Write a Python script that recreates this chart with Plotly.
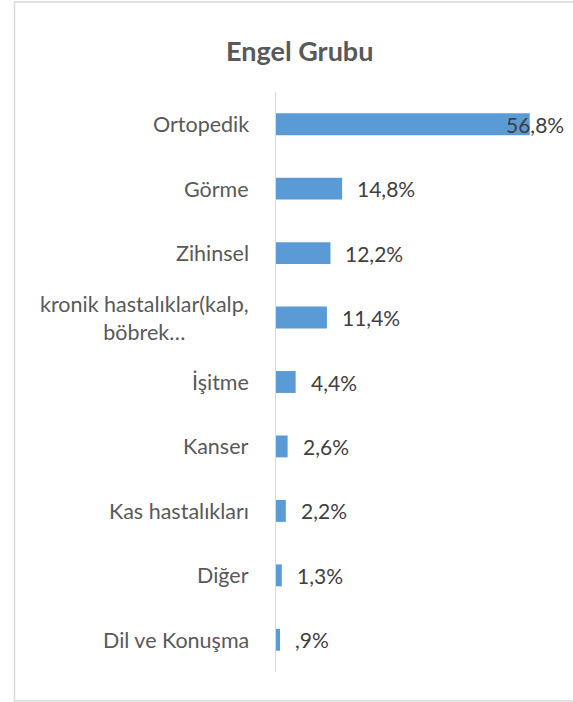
import plotly.graph_objects as go

categories = ["Ortopedik", "Görme", "Zihinsel", "kronik hastalıklar(kalp,<br>böbrek…",
              "İşitme", "Kanser", "Kas hastalıkları", "Diğer", "Dil ve Konuşma"]
values = [56.8, 14.8, 12.2, 11.4, 4.4, 2.6, 2.2, 1.3, 0.9]
title_text = "Engel Grubu"


def fmt(v):
    s = f"{v:.1f}".replace(".", ",")
    if s.startswith("0"):
        s = s[1:]
    return s + "%"


W, H = 573, 702
L, R, T, B = 276, 29, 92, 30
pw, ph = W - L - R, H - T - B

FONT = "Lato"
GRAY = "#595959"
DARK = "#404040"
LBL = 21
CAT = 21.5


def px_x(p):
    return (p - L) / pw


def px_y(p):
    return (H - B - p) / ph


fig = go.Figure()
fig.add_trace(go.Bar(
    x=values, y=categories, orientation="h",
    marker=dict(color="#5B9BD5", line=dict(width=0)),
    hoverinfo="skip",
))

annotations = []
vmax = max(values)
for c, v in zip(categories, values):
    # value labels
    if v == vmax:
        annotations.append(dict(x=v, y=c, xref="x", yref="y", text=fmt(v),
                                showarrow=False, xanchor="right", xshift=36,
                                font=dict(family=FONT, size=LBL, color=DARK)))
    else:
        annotations.append(dict(x=v, y=c, xref="x", yref="y", text=fmt(v),
                                showarrow=False, xanchor="left", xshift=13,
                                font=dict(family=FONT, size=LBL, color=DARK)))
    # category labels (centered for multi-line, like Excel)
    annotations.append(dict(x=px_x(251), y=c, xref="paper", yref="y", text=c,
                            showarrow=False, xanchor="right", align="center",
                            font=dict(family=FONT, size=CAT, color=GRAY)))

annotations.append(dict(x=px_x(299), y=px_y(51), xref="paper", yref="paper",
                        text="<b>" + title_text + "</b>", showarrow=False,
                        xanchor="center", yanchor="middle",
                        font=dict(family=FONT, size=27, color=GRAY)))

fig.update_layout(
    width=W, height=H,
    margin=dict(l=L, r=R, t=T, b=B, autoexpand=False),
    paper_bgcolor="white", plot_bgcolor="white",
    showlegend=False,
    bargap=0.66,
    font=dict(family=FONT, color=GRAY),
    xaxis=dict(range=[0, 60], visible=False, fixedrange=True),
    yaxis=dict(autorange="reversed", showline=True, linecolor="#d9d9d9", linewidth=1,
               showgrid=False, ticks="", showticklabels=False, fixedrange=True),
    annotations=annotations,
    shapes=[dict(type="rect", xref="paper", yref="paper",
                 x0=px_x(14.5), x1=px_x(600), y0=px_y(701), y1=px_y(2),
                 line=dict(color="#d9d9d9", width=1.5), layer="below")],
)

fig.write_html("out.html", config={"displayModeBar": False},
               post_script="document.body.style.margin='0';document.body.style.overflow='hidden';")
